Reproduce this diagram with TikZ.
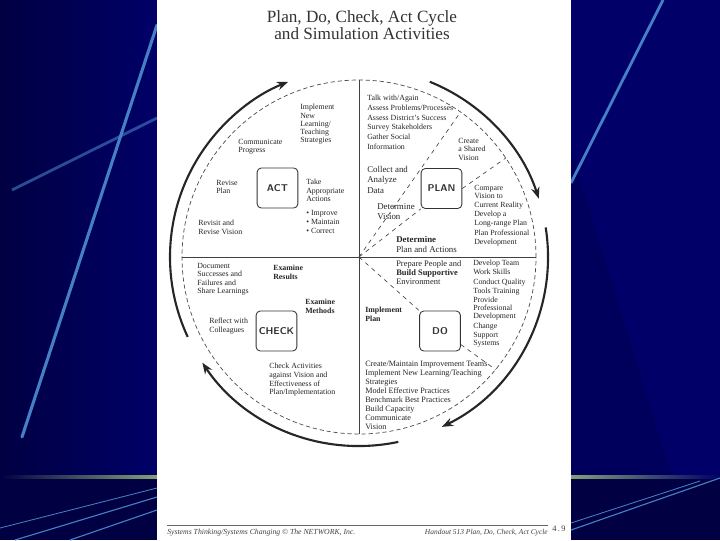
\documentclass[tikz,border=0pt]{standalone}
\usepackage{fontspec}
\setmainfont{Liberation Serif}
\usepackage{tikz}
\usetikzlibrary{calc}
\usetikzlibrary{arrows.meta}
\definecolor{navy}{RGB}{0,0,104}
\definecolor{navydark}{RGB}{0,0,66}
\definecolor{streak}{RGB}{70,128,196}
\definecolor{greenish}{RGB}{132,160,120}

\begin{document}
\begin{tikzpicture}[x=0.025cm,y=0.025cm,
	lbl/.style={anchor=north west,inner sep=0pt,align=left,text=black!85,font=\fontsize{5.6}{5.9}\selectfont},
	lblw/.style={lbl,font=\fontsize{5.6}{6.9}\selectfont},
	lblb/.style={lbl,font=\fontsize{6.3}{7.4}\selectfont},
	lblbf/.style={lbl,font=\bfseries\fontsize{5.6}{6.4}\selectfont},
	box/.style={draw=black!80,line width=0.6pt,rounded corners=3pt,minimum width=1.02cm,minimum height=1cm,inner sep=0pt,text=black!80,font=\sffamily\bfseries\fontsize{7}{8}\selectfont},
	ring/.style={black!70,line width=0.5pt,densely dashed},
	divider/.style={black!75,line width=0.5pt},
	spoke/.style={black!75,line width=0.45pt,dashed},
	cyc/.style={black!85,line width=1.5pt,->},
	>={Stealth[length=8pt,width=6pt]},
	foot/.style={inner sep=0pt,text=black!75,font=\itshape\fontsize{5.5}{6}\selectfont}]
\useasboundingbox (0,0) rectangle (720,-540);
% slide background
\fill[navy] (0,0) rectangle (720,-540);
\shade[left color=navydark,right color=navy] (0,0) rectangle (157,-477);
\fill[navydark,opacity=0.3] (571,-150) -- (571,-477) -- (672,-477) -- cycle;
\fill[navydark] (0,-477) rectangle (720,-540);
\draw[streak,line width=2.2pt,line cap=round] (157,-25) -- (22,-437);
\draw[streak,line width=2pt,opacity=0.6] (157,-118) -- (12,-190);
\draw[streak,line width=2pt] (663,0) -- (571,-183);
\shade[left color=navydark,right color=greenish] (0,-475.5) rectangle (157,-478.5);
\shade[left color=greenish,right color=navy] (571,-475.5) rectangle (720,-478.5);
\draw[streak,line width=0.8pt] (15,-540) -- (157,-497);
\draw[streak,line width=0.8pt] (70,-540) -- (157,-510);
\draw[streak,line width=0.6pt] (0,-528) -- (157,-488);
\draw[streak,line width=0.8pt] (571,-530) -- (720,-478);
\draw[streak,line width=0.6pt] (571,-523) -- (700,-481);
% the page
\fill[white] (157,0) rectangle (571,-540);

\node[align=center,text=black!80,font=\fontsize{12.2}{11.6}\selectfont] (title) at (362,-25) {Plan, Do, Check, Act Cycle\\and Simulation Activities};

% circle and quadrants
\coordinate (O) at (359,-257);
\coordinate (N) at ($(O)+(90:177)$);
\coordinate (S) at ($(O)+(270:177)$);
\coordinate (E) at ($(O)+(0:177)$);
\coordinate (W) at ($(O)+(180:177)$);
\draw[ring] (O) circle[radius=177];
\draw[divider] (N)--(S);
\draw[divider] (W)--(E);

\node[box] (ACT) at (277.5,-188) {ACT};
\node[box] (PLAN) at (441.5,-188.5) {PLAN};
\node[box] (CHECK) at (276.5,-331) {CHECK};
\node[box] (DO) at (440,-331) {DO};

\coordinate (P1) at ($(O)+(55:177)$);
\coordinate (P2) at ($(O)+(34:177)$);
\coordinate (D1) at ($(O)+(-39.5:177)$);
\draw[spoke] (O)--(P1);
\draw[spoke] (O)--(PLAN.south west);
\draw[spoke] (PLAN.east)--(P2);
\draw[spoke] (O)--(DO.north west);
\draw[spoke] (DO.-33)--(D1);

% cycle arrows
\coordinate (A1) at ($(O)+(68:189)$);
\coordinate (A2) at ($(O)+(9:189)$);
\coordinate (A3) at ($(O)+(-78:189)$);
\coordinate (A4) at ($(O)+(205:189)$);
\draw[cyc] (A1) arc[start angle=68,end angle=18,radius=189];
\draw[cyc] (A2) arc[start angle=9,end angle=-64,radius=189];
\draw[cyc] (A3) arc[start angle=-78,end angle=-146,radius=189];
\draw[cyc] (A4) arc[start angle=205,end angle=112,radius=189];

% ACT
\node[lbl] (impl) at (300,-104) {Implement\\New\\Learning/\\Teaching\\Strategies};
\node[lbl] (comm) at (238,-139) {Communicate\\Progress};
\node[lbl] (rplan) at (216,-180) {Revise\\Plan};
\node[lbl] (rvis) at (198,-220) {Revisit and\\Revise Vision};
\node[lbl] (take) at (306,-179) {Take\\Appropriate\\Actions};
\node[lbl,font=\fontsize{5.6}{6.4}\selectfont] (bul) at (306,-210) {\textbullet\ Improve\\\textbullet\ Maintain\\\textbullet\ Correct};

% PLAN
\node[lblw] (talk) at (367,-95) {Talk with/Again\\Assess Problems/Processes\\Assess District's Success\\Survey Stakeholders\\Gather Social\\Information};
\node[lbl] (share) at (458,-138) {Create\\a Shared\\Vision};
\node[lblb] (coll) at (367,-166) {Collect and\\Analyze\\Data};
\node[lblb] (dvis) at (377,-203) {Determine\\Vision};
\node[lbl] (comp) at (474,-185) {Compare\\Vision to\\Current Reality};
\node[lbl] (long) at (474,-211) {Develop a\\Long-range Plan};
\node[lbl] (prof) at (474,-230) {Plan Professional\\Development};
\node[lblb] (dplan) at (396,-236) {\textbf{Determine}\\Plan and Actions};

% CHECK
\node[lbl] (doc) at (197,-263) {Document\\Successes and\\Failures and\\Share Learnings};
\node[lblbf] (eres) at (273,-265) {Examine\\Results};
\node[lblbf] (emeth) at (305,-299) {Examine\\Methods};
\node[lbl] (refl) at (209,-318) {Reflect with\\Colleagues};
\node[lbl,font=\fontsize{5.6}{6.2}\selectfont] (chk) at (269,-363) {Check Activities\\against Vision and\\Effectiveness of\\Plan/Implementation};

% DO
\node[lbl,font=\fontsize{6}{6.4}\selectfont] (prep) at (396,-260) {Prepare People and\\\textbf{Build Supportive}\\Environment};
\node[lbl] (team) at (473,-260) {Develop Team\\Work Skills};
\node[lbl] (qual) at (473,-279) {Conduct Quality\\Tools Training};
\node[lbl,font=\fontsize{5.6}{5.5}\selectfont] (prov) at (473,-297) {Provide\\Professional\\Development};
\node[lbl] (supp) at (473,-323) {Change\\Support\\Systems};
\node[lblbf] (iplan) at (365,-307) {Implement\\Plan};
\node[lbl,font=\fontsize{5.8}{6.4}\selectfont] (teams) at (365,-361) {Create/Maintain Improvement Teams\\Implement New Learning/Teaching\\Strategies\\Model Effective Practices\\Benchmark Best Practices\\Build Capacity\\Communicate\\Vision};

% footer
\coordinate (F1) at (167,-525);
\coordinate (F2) at (548,-525);
\draw[black!60,line width=0.4pt] (F1)--(F2);
\node[foot,anchor=base west] (fl) at (167,-534) {Systems Thinking/Systems Changing \textcopyright\ The NETWORK, Inc.};
\node[foot,font=\itshape\fontsize{5.3}{6}\selectfont,anchor=base east] (fr) at (548,-534) {Handout 513 Plan, Do, Check, Act Cycle};
\node[foot,font=\fontsize{6}{6}\selectfont,anchor=base west] (pg) at (552,-531) {4\,.\,9};

\end{tikzpicture}
\end{document}
